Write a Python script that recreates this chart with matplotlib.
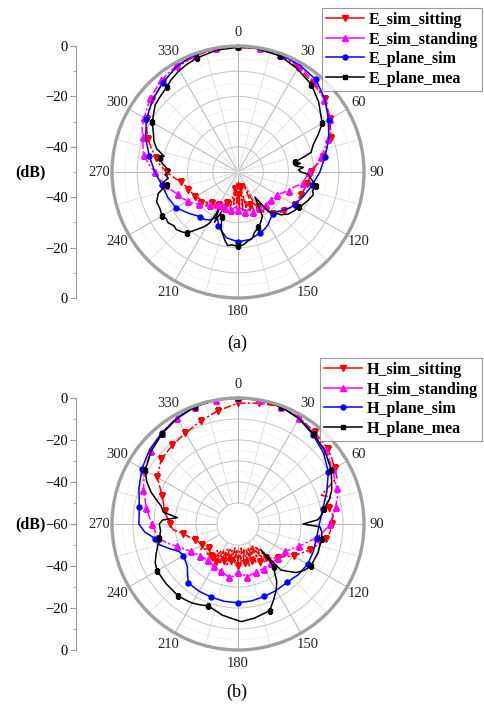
"""Radiation patterns (E and H plane), sitting vs standing vs plane."""

import matplotlib

matplotlib.use("Agg")
import matplotlib.pyplot as plt
import numpy as np

plt.rcParams["font.family"] = ["Liberation Serif", "DejaVu Serif"]

# ---- panel (a): E plane, centre = -50 dB ----
e_sit_deg = [0, 10, 20, 30, 40, 50, 60, 70, 80, 90, 100, 110, 120, 130, 135,
             140, 142.5, 145, 147.5, 150, 152.5, 155, 157.5, 160, 162.5, 165,
             167.5, 170, 172.5, 175, 177.5, 180, 182.5, 185, 187.5, 190, 192.5,
             195, 197.5, 200, 202.5, 205, 207.5, 210, 212.5, 215, 217.5, 220,
             222.5, 225, 230, 235, 240, 245, 250, 255, 260, 265, 270, 275, 280,
             285, 290, 295, 300, 310, 320, 330, 340, 350, 360]
e_sit_db = [-0.5, -0.3, -0.8, -2.2, -3.8, -5.0, -7.7, -10.9, -15.6, -21, -22,
            -23.5, -24, -26, -27,
            -28.5, -30, -33, -31, -34, -32, -45, -33, -36, -34, -38,
            -35, -44, -34, -46, -35, -41, -36, -46, -37, -43, -36,
            -39, -34, -37, -33, -36, -32, -35, -33, -35, -32, -34,
            -31, -33, -31, -31.5, -30.5, -30, -29, -28.5, -27, -24.5, -21.7,
            -19, -17, -14.5, -12, -10, -8.3, -5.5, -3.5, -1.8, -0.8, -0.3, -0.5]

e_std_deg = [0, 10, 20, 30, 40, 50, 60, 65, 70, 75, 80, 85, 90, 95, 100, 105,
             110, 115, 120, 125, 130, 140, 150, 160, 165, 170, 175, 180, 185,
             190, 195, 200, 205, 210, 215, 220, 225, 230, 235, 240, 245, 250,
             255, 260, 265, 270, 275, 280, 285, 290, 295, 300, 310, 320, 330,
             340, 350, 360]
e_std_db = [0, -0.2, -0.7, -1.5, -3, -5.3, -8, -10, -12, -14.5, -16.5, -19,
            -22, -23, -24, -27, -28.5, -30.5, -32, -32.5, -33, -33, -33.5, -33,
            -34.5, -34, -35.5, -35, -36, -34.5, -36, -35, -36.5, -35, -34, -33,
            -31.5, -30, -28.5, -27, -25.5, -24.5, -22.5, -21, -18.5, -17, -14.5,
            -12, -11, -9.8, -8, -7, -4.5, -2.5, -1.2, -0.5, -0.1, 0]

e_sim_deg = [0, 10, 20, 30, 40, 50, 60, 70, 80, 90, 100, 110, 120, 125, 130,
             135, 140, 145, 150, 155, 160, 170, 180, 190, 195, 200, 203, 206,
             210, 215, 220, 230, 240, 250, 260, 270, 280, 290, 300, 310, 320,
             330, 340, 350, 360]
e_sim_db = [0, -0.1, -0.4, -1.0, -2.0, -5.0, -8.5, -11.7, -14.9, -17.5, -20.1,
            -22.2, -24.1, -25, -26.5, -27.8, -28.2, -27.5, -26, -25, -24.3,
            -22.8, -22.3, -23.5, -25.5, -27.2, -29.5, -30, -28, -27, -26.8,
            -24.5, -21.6, -20.4, -19.4, -17, -14.3, -11, -8, -5.7, -3.7, -1.5,
            -0.2, 0, 0]

e_mea_deg = [0, 8, 20, 30, 40, 49, 60, 65, 70, 75, 77, 80, 82, 84, 86, 88, 90,
             92, 95, 100, 104, 107, 112, 116, 120, 125, 130, 135, 138, 141, 143,
             146, 151, 156, 160, 165, 168, 171, 176, 180, 185, 188, 191, 196,
             200, 203, 205, 207, 209, 212, 216, 220, 223, 227, 230, 234, 237,
             240, 245, 250, 255, 260, 262, 265, 268, 271, 273, 277, 280, 282,
             286, 290, 294, 296, 300, 304, 309, 314, 320, 324, 329, 334, 340,
             350, 360]
e_mea_db = [-0.5, -0.4, -1, -2.8, -4.7, -7.6, -11.4, -14.9, -18.2, -20, -23,
            -27, -25, -27, -24, -26, -25, -22, -21, -18.6, -19.5, -18.8, -20,
            -21, -22, -23, -24, -26, -28.3, -29, -32, -38, -30, -28,
            -26.6, -25, -23, -22.5, -21, -20.5, -21, -20.5, -22.5, -26, -31,
            -32.5, -28, -33, -26.8, -24.3, -21.7, -18.3, -17.5, -16.5, -16.8,
            -15.7, -16, -15.2, -15.8, -15.6, -17.3, -21.2, -20, -22.2, -21, -23,
            -21.7, -19.5, -18.4, -20, -16.4, -14.5, -13.3, -12.5, -10.7, -9.5,
            -7.7, -7, -6, -4.8, -3.7, -2.8, -1.9, -0.9, -0.5]

# ---- panel (b): H plane, centre = -60 dB ----
h_sit_deg = [0, 10, 20, 30, 40, 50, 55, 60, 65, 68, 71, 74, 77, 80, 85, 90, 95,
             100, 105, 110, 115, 120, 125, 130, 135, 140, 142.5, 145, 147.5,
             150, 152.5, 155, 157.5, 160, 162.5, 165, 167.5, 170, 172.5, 175,
             177.5, 180, 182.5, 185, 187.5, 190, 192.5, 195, 197.5, 200, 202.5,
             205, 207.5, 210, 212.5, 215, 217.5, 220, 225, 230, 235, 240, 245,
             250, 255, 260, 265, 270, 280, 290, 300, 310, 320, 330, 340, 350,
             360]
h_sit_db = [-2.5, -1.5, -0.6, -1.5, -3, -4.1, -5.5, -6.9, -8, -14, -18, -14,
            -16.5, -16, -14.5, -15.4, -16, -17.5, -21, -23.7, -27, -29.4, -33,
            -35, -37, -39, -46, -38, -48, -39, -47, -40, -48, -41, -47, -39,
            -48, -41, -48.5, -42, -47, -40, -48, -41, -48.5, -42, -47, -40, -48,
            -41, -47, -39, -46, -39, -45, -38, -44, -40, -39, -42, -38.5, -40,
            -39.5, -38, -36, -33.5, -29, -27.5, -24.5, -21.7, -15.6, -12.2,
            -11.2, -10, -7.9, -5.2, -2.5]

h_std_deg = [0, 10, 20, 30, 40, 50, 60, 70, 75, 80, 90, 95, 100, 105, 110, 115,
             120, 130, 140, 150, 160, 170, 175, 180, 185, 190, 200, 210, 220,
             230, 240, 250, 255, 260, 270, 280, 290, 300, 310, 320, 330, 340,
             350, 360]
h_std_db = [0, -0.2, -0.5, -1.5, -3.5, -5.5, -8, -10, -11, -12.8, -16.2, -19,
            -22, -26, -29, -32, -34, -35, -35.5, -35.5, -35.5, -34.6, -36,
            -37.3, -35, -34.5, -36, -37, -37.5, -36.5, -34, -29, -25, -21.5,
            -18.9, -15.7, -12.1, -8.5, -6, -3.5, -1.5, -0.5, 0, 0]

h_sim_deg = [0, 10, 20, 30, 40, 50, 60, 70, 80, 90, 100, 110, 120, 130, 140,
             150, 160, 170, 180, 190, 200, 210, 220, 225, 230, 240, 245, 250,
             255, 260, 265, 270, 280, 290, 300, 310, 320, 330, 340, 350, 360]
h_sim_db = [0, -0.1, -0.5, -2, -4.5, -7, -10.3, -15, -19, -21.3, -22, -21.8,
            -21.7, -22.5, -23.7, -23.5, -23.3, -22.8, -22.5, -22.6, -22.9, -23,
            -23.3, -26, -28.5, -30, -29, -25.5, -21.5, -20, -15.5, -12.8, -12.3,
            -9.8, -7.2, -5, -3.4, -1.8, -0.3, 0, 0]

h_mea_deg = [0, 10, 20, 30, 40, 50, 60, 70, 75, 80, 84, 87, 90, 92, 95, 100,
             110, 120, 125, 130, 135, 137, 138.5, 140, 143, 146, 150, 155, 160,
             165, 170, 175, 178, 182, 190, 195, 200, 205, 210, 215, 220, 230,
             240, 245, 250, 255, 260, 265, 270, 273, 276, 279, 283, 286, 290,
             295, 300, 310, 320, 330, 340, 350, 360]
h_mea_db = [0, -0.1, -0.5, -2, -4, -6, -8.7, -12.5, -15, -18.5, -20, -22, -29,
            -21, -20, -19.5, -19.5, -20, -21.5, -24, -28.5, -30, -44, -33.5,
            -31, -27, -23.6, -20, -16, -15.5, -14.5, -14, -13.5, -14.5, -16,
            -17.5, -18.5, -17.5, -16.5, -16, -15.5, -15.5, -15.5, -16.5, -18.5,
            -20.5, -22, -23, -22.5, -24, -31, -24, -22.5, -20, -16, -12, -9, -6,
            -3.8, -2, -0.5, 0, 0]

E_NAMES = ["E_sim_sitting", "E_sim_standing", "E_plane_sim", "E_plane_mea"]
H_NAMES = ["H_sim_sitting", "H_sim_standing", "H_plane_sim", "H_plane_mea"]

DASHDOT = (0, (5, 1.5, 1.5, 1.5))
STYLES = [
    dict(color="#ff0000", ls=DASHDOT, marker="v", ms=3.8, every=10),
    dict(color="#ff00ff", ls=DASHDOT, marker="^", ms=3.8, every=10),
    dict(color="#0000ff", ls="-", marker="o", ms=3.6, every=20),
    dict(color="#000000", ls="-", marker="s", ms=3.2, every=20),
]

W, H = 485, 704
SCALE_X = 76


def polar_panel(fig, rect, origin, curves, names, legend_top):
    ax = fig.add_axes(rect, projection="polar")
    ax.set_theta_zero_location("N")
    ax.set_theta_direction(-1)
    ax.set_rlim(-50, 0)
    ax.set_rorigin(origin)

    ax.set_xticks(np.radians(np.arange(0, 360, 30)))
    ax.set_xticklabels([str(a) for a in range(0, 360, 30)], fontsize=10.5)
    ax.set_xticks(np.radians(np.arange(15, 360, 30)), minor=True)
    ax.tick_params(axis="x", pad=-1, colors="#222222")
    ax.set_yticks(np.arange(-40, 0, 10))
    ax.set_yticks(np.arange(-45, 0, 10), minor=True)
    ax.set_yticklabels([])
    ax.tick_params(axis="y", length=0)
    ax.xaxis.grid(True, which="major", color="#b4b4b4", lw=0.7)
    ax.xaxis.grid(True, which="minor", color="#dddddd", lw=0.6)
    ax.yaxis.grid(True, which="major", color="#c4c4c4", lw=0.7)
    ax.yaxis.grid(True, which="minor", color="#d8d8d8", lw=0.6, ls=":")
    ax.spines["polar"].set_color("#a0a0a0")
    ax.spines["polar"].set_linewidth(2.4)
    ax.spines["inner"].set_color("#c4c4c4")
    ax.spines["inner"].set_linewidth(0.7)

    for (deg, db), name, st in zip(curves, names, STYLES):
        deg = np.asarray(deg, dtype=float)
        marks = [i for i, a in enumerate(deg[:-1]) if a % st["every"] == 0]
        ax.plot(np.radians(deg), db, color=st["color"], ls=st["ls"], lw=1.1,
                marker=st["marker"], ms=st["ms"], markevery=marks, label=name)

    handles, labels = ax.get_legend_handles_labels()
    leg = fig.legend(handles, labels, loc="upper right",
                     bbox_to_anchor=(482 / W, 1 - legend_top / H),
                     frameon=True, fancybox=False, borderaxespad=0,
                     prop=dict(weight="bold", size=11.5), handlelength=2.4,
                     handletextpad=0.3, labelspacing=0.22, borderpad=0.25)
    leg.get_frame().set_edgecolor("#808080")
    leg.get_frame().set_linewidth(0.8)
    for line in leg.get_lines():
        line.set_linestyle("-")
    return ax


def db_scale(fig, rect, lim):
    sx = fig.add_axes([SCALE_X / W, rect[1], 0.0001, rect[3]])
    sx.set_ylim(-lim, lim)
    pos = np.arange(-lim, lim + 1, 10)
    major = [p for p in pos if (lim - abs(p)) % 20 == 0]
    minor = [p for p in pos if (lim - abs(p)) % 20 != 0]
    sx.set_yticks(major)
    sx.set_yticklabels([str(abs(p) - lim).replace("-", "\u2212") for p in major],
                       fontsize=10.5)
    sx.set_yticks(minor, minor=True)
    sx.set_xticks([])
    for side in ("right", "top", "bottom"):
        sx.spines[side].set_visible(False)
    sx.spines["left"].set_color("#9a9a9a")
    sx.tick_params(axis="y", which="major", length=4, color="#9a9a9a", pad=2)
    sx.tick_params(axis="y", which="minor", length=2, color="#9a9a9a")
    fig.text(30 / W, rect[1] + rect[3] / 2, "(dB)", ha="center", va="center",
             fontsize=11.5, fontweight="bold")


def main() -> None:
    fig = plt.figure(figsize=(W / 100, H / 100), dpi=100)

    rect_a = [112 / W, 1 - 298 / H, 252 / W, 252 / H]
    rect_b = [112 / W, 1 - 650 / H, 252 / W, 252 / H]

    polar_panel(fig, rect_a, -50,
                [(e_sit_deg, e_sit_db), (e_std_deg, e_std_db),
                 (e_sim_deg, e_sim_db), (e_mea_deg, e_mea_db)],
                E_NAMES, 8)
    db_scale(fig, rect_a, 50)
    fig.text(237 / W, 1 - 343 / H, "(a)", ha="center", va="center", fontsize=13)

    polar_panel(fig, rect_b, -60,
                [(h_sit_deg, h_sit_db), (h_std_deg, h_std_db),
                 (h_sim_deg, h_sim_db), (h_mea_deg, h_mea_db)],
                H_NAMES, 358)
    db_scale(fig, rect_b, 60)
    fig.text(237 / W, 1 - 692 / H, "(b)", ha="center", va="center", fontsize=13)

    fig.savefig("out.png", dpi=100, facecolor="white")
    plt.close(fig)


if __name__ == "__main__":
    main()
